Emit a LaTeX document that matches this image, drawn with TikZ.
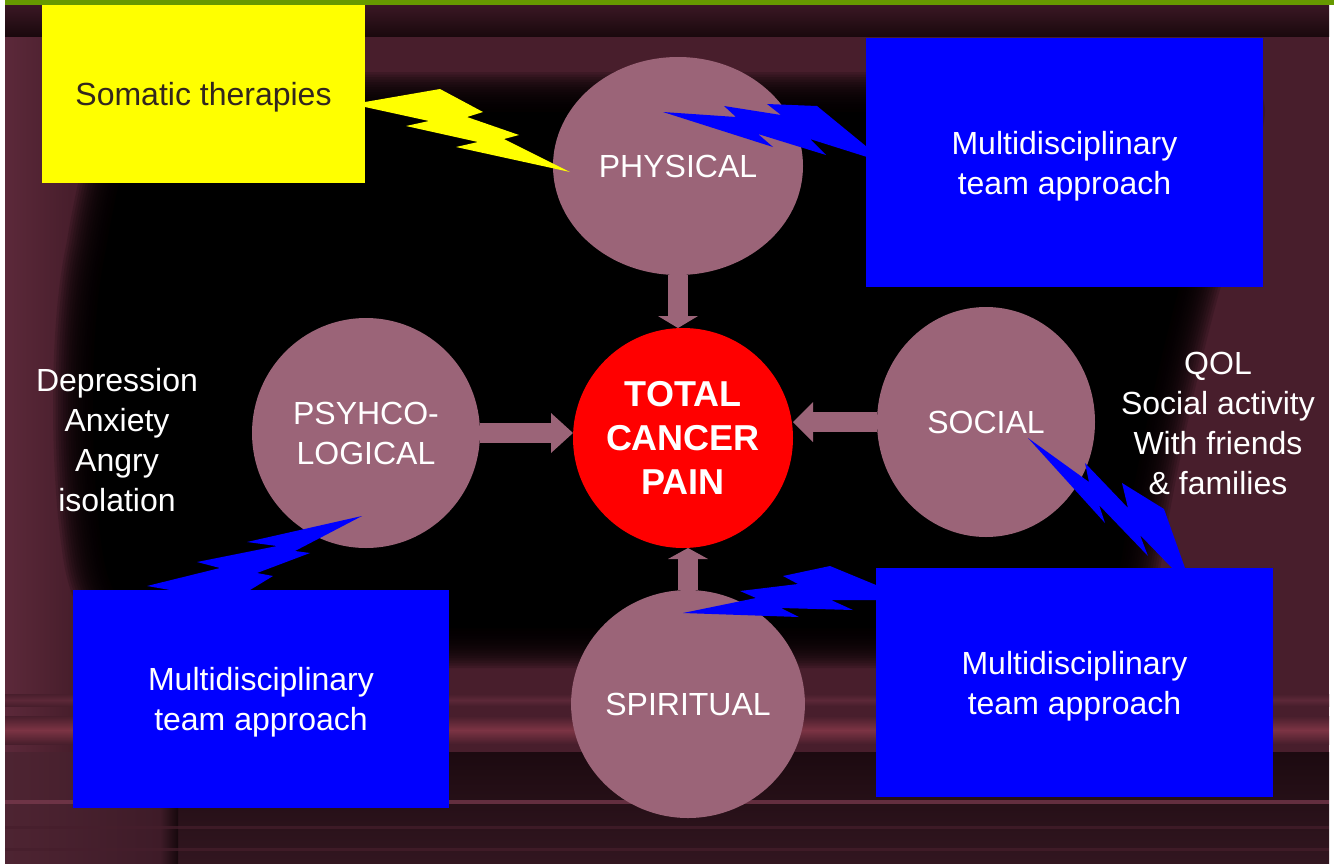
\documentclass[tikz,border=0pt]{standalone}
\usepackage{fontspec}
\setmainfont{Liberation Sans}
\usetikzlibrary{shapes.geometric,arrows.meta}
\definecolor{bgM}{RGB}{72,30,44}
\definecolor{bgL}{RGB}{92,41,58}
\definecolor{bandTop}{RGB}{58,24,36}
\definecolor{bandBot}{RGB}{26,8,13}
\definecolor{mauve}{RGB}{155,100,120}
\definecolor{gbar}{RGB}{102,153,0}
\definecolor{stripe}{RGB}{124,52,68}
\definecolor{stripeB}{RGB}{92,40,56}
\definecolor{darkB}{RGB}{28,10,16}
\definecolor{darkB2}{RGB}{50,22,32}
\definecolor{colL}{RGB}{78,36,50}
\definecolor{colM}{RGB}{62,27,40}
\definecolor{colD}{RGB}{22,8,12}
\definecolor{pinkline}{RGB}{125,60,80}
\definecolor{faintline}{RGB}{70,30,44}
\definecolor{txtdark}{RGB}{50,38,30}
\definecolor{pureblue}{RGB}{0,0,255}
\definecolor{pureyellow}{RGB}{255,255,0}
\definecolor{purered}{RGB}{255,0,0}
\begin{document}
\begin{tikzpicture}[x=0.5pt,y=-0.5pt,
  circ/.style={ellipse, fill=mauve, inner sep=0pt, outer sep=0pt, text=white, align=center,
    font=\fontsize{16}{20}\selectfont, text depth=0pt},
  tbox/.style={rectangle, fill=pureblue, inner sep=0pt, outer sep=0pt, text=white, align=center,
    font=\fontsize{16}{20}\selectfont, text depth=0pt},
  side/.style={text=white, align=center, font=\fontsize{16}{20}\selectfont, inner sep=0pt, text depth=0pt},
  blockarrow/.style={draw=mauve, line width=10pt},
  bolt/.style={fill=pureblue},
]
% ---------- background ----------
\useasboundingbox (0,0) rectangle (1334,863);
\fill[white] (0,0) rectangle (1334,863);
\fill[gbar] (5,0) rectangle (1334,5);
\fill[bgM] (5,5) rectangle (1329,863);
\shade[left color=bgL, right color=bgM] (5,36) rectangle (70,863);
\shade[top color=bandTop, bottom color=bandBot] (5,5) rectangle (1329,36);
\foreach \w in {40pt,37.5pt,35pt,32.5pt,30pt,27.5pt,25pt,22.5pt,20pt,17.5pt,15pt,12.5pt,10pt,7.5pt,5pt,2.5pt}{
  \draw[black, opacity=0.14, line width=\w, line join=round]
    (140,112) -- (1225,112)
    .. controls (1215,170) and (1202,215) .. (1190,250)
    .. controls (1165,330) and (1135,470) .. (1122,555)
    .. controls (1114,605) and (1090,628) .. (1040,628)
    -- (180,628)
    .. controls (132,628) and (112,600) .. (104,560)
    .. controls (90,480) and (88,330) .. (106,250)
    .. controls (114,200) and (128,140) .. (140,112) -- cycle;
}
\fill[black]
    (140,112) -- (1225,112)
    .. controls (1215,170) and (1202,215) .. (1190,250)
    .. controls (1165,330) and (1135,470) .. (1122,555)
    .. controls (1114,605) and (1090,628) .. (1040,628)
    -- (180,628)
    .. controls (132,628) and (112,600) .. (104,560)
    .. controls (90,480) and (88,330) .. (106,250)
    .. controls (114,200) and (128,140) .. (140,112) -- cycle;
% bottom stripes
\shade[top color=bgM, bottom color=bgM, middle color=stripeB] (5,694) rectangle (1329,706);
\shade[top color=bgM, bottom color=bgM, middle color=stripe] (5,716) rectangle (1329,744);
\shade[top color=darkB, bottom color=darkB2] (5,752) rectangle (1329,863);
\shade[left color=colL, right color=colM] (5,752) rectangle (160,863);
\shade[left color=colM, right color=colD] (160,752) rectangle (178,863);
\fill[pinkline, opacity=0.7] (5,800) rectangle (1329,804);
\fill[faintline, opacity=0.7] (5,826) rectangle (1329,829);
\fill[faintline, opacity=0.7] (5,848) rectangle (1329,851);
% ---------- circles ----------
\node[circ, minimum width=125pt, minimum height=109pt] (phys) at (678,166) {PHYSICAL};
\node[circ, minimum width=114pt, minimum height=115pt] (psy) at (366,433) {PSYHCO-\\LOGICAL};
\node[circ, minimum width=109pt, minimum height=115pt] (soc) at (986,422) {SOCIAL};
\node[circ, minimum width=115pt, minimum height=114pt] (spir) at (688,704) {SPIRITUAL};
\node[circ, fill=purered, minimum width=110pt, minimum height=110pt,
      font=\bfseries\fontsize{18}{22}\selectfont] (total) at (683,438) {TOTAL\\CANCER\\PAIN};
% ---------- block arrows ----------
\draw[blockarrow, -{Triangle[width=20pt,length=6pt,line width=0pt]}] (phys.south) -- (phys.south |- total.north);
\draw[blockarrow, -{Triangle[width=20pt,length=11pt,line width=0pt]}] (psy.east) -- (psy.east -| total.west);
\draw[blockarrow, -{Triangle[width=20pt,length=10pt,line width=0pt]}] (soc.west) -- (soc.west -| total.east);
\draw[blockarrow, -{Triangle[width=20pt,length=5.5pt,line width=0pt]}] (spir.north) -- (spir.north |- total.south);
% ---------- boxes ----------
\node[tbox, fill=pureyellow, text=txtdark, minimum width=161.5pt, minimum height=89pt] (soma) at (203.5,94) {Somatic therapies};
\node[tbox, minimum width=198.5pt, minimum height=124.5pt] (mdt1) at (1064.5,162.5) {Multidisciplinary\\team approach};
\node[tbox, minimum width=188pt, minimum height=109pt] (mdt2) at (261,699) {Multidisciplinary\\team approach};
\node[tbox, minimum width=198.5pt, minimum height=114.5pt] (mdt3) at (1074.5,682.5) {Multidisciplinary\\team approach};
% ---------- side texts ----------
\node[side] (psytxt) at (117,440) {Depression\\Anxiety\\Angry\\isolation};
\node[side] (soctxt) at (1218,423) {QOL\\Social activity\\With friends\\\& families};
% ---------- lightning bolts ----------
\fill[pureyellow] (365,102) -- (440,89) -- (483,112) -- (467,117) -- (519,135) -- (504,139) -- (570,172)
   -- (456,147) -- (478,142) -- (406,126) -- (429,121) -- (365,107) -- cycle;
\fill[bolt] (663,112) -- (736,117) -- (724,106) -- (781,115) -- (767,104) -- (817,106) -- (867,147)
   -- (867,157) -- (810,139) -- (826,155) -- (758,134) -- (773,147) -- cycle;
\fill[bolt] (362,516) -- (247,542) -- (277,546) -- (197,562) -- (220,568) -- (147,586) -- (170,590)
   -- (250,590) -- (273,576) -- (257,573) -- (310,553) -- (295,551) -- cycle;
\fill[bolt] (1028,438) -- (1105,523) -- (1099,505) -- (1148,556) -- (1140,535) -- (1172,568)
   -- (1185,568) -- (1164,509) -- (1122,483) -- (1128,508) -- (1085,463) -- (1089,482) -- cycle;
\fill[bolt] (876,585) -- (830,566) -- (783,576) -- (798,584) -- (740,591) -- (756,598) -- (683,613)
   -- (799,617) -- (781,608) -- (853,610) -- (831,600) -- (876,600) -- cycle;
\end{tikzpicture}
\end{document}
